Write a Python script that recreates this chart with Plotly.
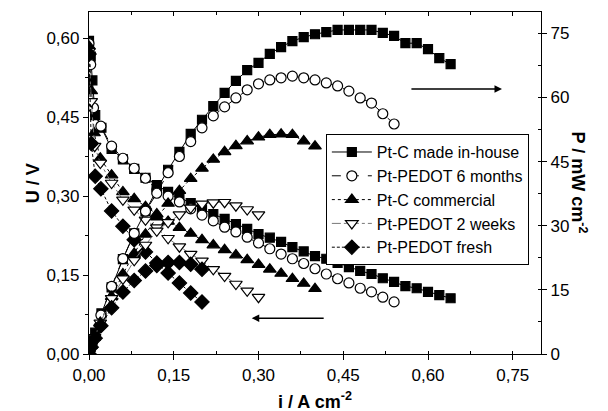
import plotly.graph_objects as go

# ---- data (i in A cm^-2, U in V, P in mW cm^-2) ----
i_house = [0, 0.003, 0.006, 0.011, 0.022, 0.04, 0.06, 0.08, 0.10, 0.12, 0.14, 0.16, 0.18, 0.20, 0.22,
           0.24, 0.26, 0.28, 0.30, 0.32, 0.34, 0.36, 0.38, 0.40, 0.42, 0.44, 0.46, 0.48, 0.50, 0.52,
           0.54, 0.56, 0.58, 0.60, 0.62, 0.64]
u_house = [0.595, 0.565, 0.52, 0.454, 0.43, 0.39, 0.37, 0.352, 0.335, 0.321, 0.308, 0.298, 0.287, 0.275,
           0.266, 0.257, 0.247, 0.238, 0.228, 0.221, 0.213, 0.203, 0.195, 0.186, 0.181, 0.173, 0.165,
           0.158, 0.152, 0.144, 0.137, 0.129, 0.125, 0.118, 0.112, 0.106]
p_house = [0, 1.7, 3.1, 5.0, 9.5, 15.6, 22.2, 28.2, 33.5, 38.5, 43.1, 47.3, 51.5, 54.8, 58.0, 61.1,
           63.9, 66.4, 68.1, 70.2, 71.8, 73.2, 74.1, 74.8, 75.3, 75.8, 75.8, 75.8, 75.8, 75.1, 74.4,
           72.7, 72.7, 71.3, 69.2, 67.8]

i_6m = [0, 0.003, 0.008, 0.021, 0.04, 0.06, 0.08, 0.10, 0.12, 0.14, 0.16, 0.18, 0.20, 0.22, 0.24,
        0.26, 0.28, 0.30, 0.32, 0.34, 0.36, 0.38, 0.40, 0.42, 0.44, 0.46, 0.48, 0.50, 0.52, 0.54]
u_6m = [0.59, 0.55, 0.468, 0.433, 0.395, 0.372, 0.353, 0.334, 0.312, 0.300, 0.289, 0.276, 0.264,
        0.253, 0.241, 0.232, 0.222, 0.211, 0.200, 0.190, 0.181, 0.172, 0.162, 0.152, 0.143, 0.135,
        0.125, 0.118, 0.108, 0.099]
p_6m = [0, 1.6, 3.7, 9.1, 15.8, 22.3, 28.2, 33.4, 37.6, 42.4, 46.2, 49.7, 52.9, 55.7, 57.8, 59.9,
        61.8, 63.2, 64.1, 64.6, 65.0, 64.6, 64.1, 63.4, 62.7, 61.5, 59.9, 58.7, 56.2, 53.8]

i_com = [0, 0.004, 0.009, 0.02, 0.04, 0.06, 0.08, 0.10, 0.12, 0.14, 0.16, 0.18, 0.20, 0.22, 0.24,
         0.26, 0.28, 0.30, 0.32, 0.34, 0.36, 0.38, 0.40]
u_com = [0.585, 0.50, 0.42, 0.372, 0.340, 0.308, 0.295, 0.280, 0.266, 0.252, 0.240, 0.229, 0.217,
         0.207, 0.198, 0.188, 0.179, 0.170, 0.161, 0.153, 0.143, 0.134, 0.124]
p_com = [0, 2.0, 3.8, 7.4, 13.4, 18.7, 23.5, 28.0, 32.0, 35.2, 38.2, 41.0, 43.4, 45.5, 47.3, 48.7,
         49.8, 50.7, 51.3, 51.4, 51.3, 49.8, 48.6]

i_2w = [0, 0.004, 0.01, 0.02, 0.04, 0.06, 0.08, 0.10, 0.12, 0.14, 0.16, 0.18, 0.20, 0.22, 0.24,
        0.26, 0.28, 0.30]
u_2w = [0.575, 0.48, 0.395, 0.363, 0.325, 0.293, 0.274, 0.255, 0.240, 0.220, 0.204, 0.190, 0.177,
        0.161, 0.148, 0.133, 0.120, 0.108]
p_2w = [0, 1.9, 3.9, 7.3, 13.0, 17.6, 21.9, 25.5, 28.8, 30.8, 32.6, 34.2, 35.1, 35.4, 35.5, 34.7,
        33.8, 32.6]

i_fr = [0, 0.004, 0.011, 0.021, 0.04, 0.06, 0.08, 0.10, 0.12, 0.14, 0.16, 0.18, 0.20]
u_fr = [0.57, 0.40, 0.338, 0.314, 0.272, 0.243, 0.217, 0.194, 0.173, 0.154, 0.135, 0.116, 0.099]
p_fr = [0, 1.6, 3.7, 6.6, 10.8, 14.5, 17.2, 19.4, 20.7, 21.4, 21.4, 21.0, 19.8]

names = ["Pt-C made in-house", "Pt-PEDOT 6 months", "Pt-C commercial", "Pt-PEDOT 2 weeks", "Pt-PEDOT fresh"]

series = [
    (names[0], i_house, u_house, p_house, "square", "black", "black", "solid", 9),
    (names[1], i_6m, u_6m, p_6m, "circle", "white", "black", "dash", 10),
    (names[2], i_com, u_com, p_com, "triangle-up", "black", "black", "dot", 11),
    (names[3], i_2w, u_2w, p_2w, "triangle-down", "white", "#777777", "dashdot", 11),
    (names[4], i_fr, u_fr, p_fr, "diamond", "black", "black", "3px,2px", 11),
]

fig = go.Figure()
for name, xi, u, p, sym, mcol, lcol, dash, size in series:
    common = dict(mode="lines+markers",
                  line=dict(color=lcol, width=1, dash=dash),
                  marker=dict(symbol=sym, size=size, color=mcol,
                              line=dict(color="black", width=1.2)),
                  hoverinfo="skip")
    fig.add_trace(go.Scatter(x=xi, y=u, name=name, legendgroup=name, showlegend=True,
                             xaxis="x", yaxis="y", **common))
    fig.add_trace(go.Scatter(x=xi, y=p, name=name, legendgroup=name, showlegend=False,
                             xaxis="x", yaxis="y2", **common))

# helper trace so the top tick axis is drawn
fig.add_trace(go.Scatter(x=[None], y=[None], xaxis="x2", yaxis="y", showlegend=False,
                         hoverinfo="skip", mode="markers"))

FONT = "Liberation Sans, Arial, Helvetica, sans-serif"
tickfont = dict(family=FONT, size=17, color="black")

fig.update_layout(
    width=608, height=411,
    margin=dict(l=89, r=67, t=12, b=57),
    paper_bgcolor="white", plot_bgcolor="white",
    separators=", ",
    font=dict(family=FONT, color="black"),
    xaxis=dict(range=[0, 0.80], tick0=0, dtick=0.15, tickformat=".2f",
               showline=True, linecolor="black", linewidth=1.2, mirror=True,
               ticks="outside", ticklen=5, tickcolor="black", tickwidth=1,
               minor=dict(dtick=0.075, ticks="inside", ticklen=3, tickcolor="black"),
               showgrid=False, zeroline=False, tickfont=tickfont),
    xaxis2=dict(range=[0, 0.80], overlaying="x", side="top", tick0=0, dtick=0.15,
                showticklabels=False, ticks="inside", ticklen=4, tickcolor="black",
                minor=dict(dtick=0.075, ticks="inside", ticklen=3, tickcolor="black"),
                showgrid=False, zeroline=False, showline=False),
    yaxis=dict(range=[0, 0.65], tick0=0, dtick=0.15, tickformat=".2f",
               showline=True, linecolor="black", linewidth=1.2,
               ticks="outside", ticklen=5, tickcolor="black", tickwidth=1,
               minor=dict(dtick=0.075, ticks="outside", ticklen=3, tickcolor="black"),
               showgrid=False, zeroline=False, tickfont=tickfont),
    yaxis2=dict(range=[0, 80], tick0=0, dtick=15, overlaying="y", side="right",
                showline=True, linecolor="black", linewidth=1.2,
                ticks="outside", ticklen=5, tickcolor="black", tickwidth=1,
                minor=dict(dtick=7.5, ticks="inside", ticklen=3, tickcolor="black"),
                showgrid=False, zeroline=False, tickfont=tickfont),
    legend=dict(x=0.524, y=0.643, xanchor="left", yanchor="top",
                bordercolor="black", borderwidth=1, bgcolor="white",
                font=dict(family=FONT, size=16, color="black"),
                tracegroupgap=0, itemwidth=40),
    showlegend=True,
)

annotations = [
    dict(text="<b>U / V</b>", xref="paper", yref="paper", x=-0.15, y=0.5,
         textangle=-90, showarrow=False, font=dict(family=FONT, size=18)),
    dict(text="<b>P / mW cm<sup>-2</sup></b>", xref="paper", yref="paper", x=1.115, y=0.5,
         textangle=90, showarrow=False, font=dict(family=FONT, size=18)),
    dict(text="<b>i / A cm<sup>-2</sup></b>", xref="paper", yref="paper", x=0.5, y=-0.135,
         yanchor="middle", showarrow=False, font=dict(family=FONT, size=18)),
    # arrows pointing to the axis each curve family belongs to
    dict(x=0.731, y=62.0, xref="x", yref="y2", ax=0.568, ay=62.0, axref="x", ayref="y2",
         showarrow=True, arrowhead=2, arrowsize=1, arrowwidth=1.5, arrowcolor="black", text=""),
    dict(x=0.288, y=0.068, xref="x", yref="y", ax=0.418, ay=0.068, axref="x", ayref="y",
         showarrow=True, arrowhead=2, arrowsize=1, arrowwidth=1.5, arrowcolor="black", text=""),
]
fig.update_layout(annotations=annotations)

fig.write_html("out.html")
